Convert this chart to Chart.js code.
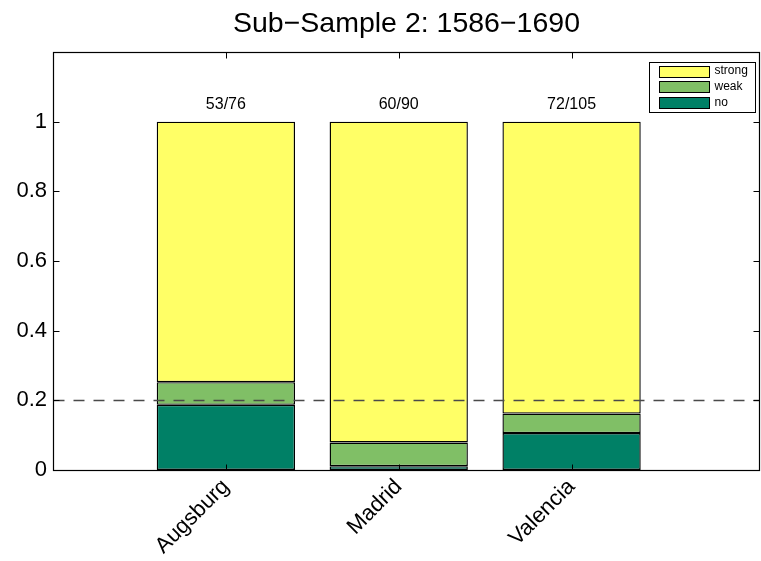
<!DOCTYPE html>
<html>
<head>
<meta charset="utf-8">
<script src="https://cdn.jsdelivr.net/npm/chart.js@4.4.1/dist/chart.umd.min.js"></script>
<style>
  html, body { margin: 0; padding: 0; background: #ffffff; overflow: hidden; }
  canvas { display: block; }
</style>
</head>
<body>
<canvas id="chart" width="761" height="561"></canvas>
<script>
// Share of cases per city, stacked from the bottom: no / weak / strong
const cities = ['Augsburg', 'Madrid', 'Valencia'];
const cityPositions = [1, 2, 3];
const noShare = [0.187, 0.011, 0.106];
const weakShare = [0.065, 0.068, 0.056];
const strongShare = [0.748, 0.921, 0.838];
const countLabels = ['53/76', '60/90', '72/105'];
const yTickValues = [0, 0.2, 0.4, 0.6, 0.8, 1];
const referenceLevel = 0.2;
const countLabelLevel = 1.05;

const FONT = '"Liberation Sans", Arial, Helvetica, sans-serif';

function points(values) {
  return values.map((v, i) => ({ x: cityPositions[i], y: v }));
}

const seriesNames = ['no', 'weak', 'strong'];
const seriesColors = ['#008066', '#80bf66', '#ffff66'];
const seriesValues = [noShare, weakShare, strongShare];

const datasets = seriesNames.map((name, i) => ({
  label: name,
  data: points(seriesValues[i]),
  backgroundColor: seriesColors[i],
  borderColor: '#000000',
  borderWidth: 1.4,
  borderSkipped: false,
  categoryPercentage: 1,
  barPercentage: 0.8
}));

// Axes frame, inward ticks, reference line, count labels and legend
const decorations = {
  id: 'decorations',
  afterDatasetsDraw(chart) {
    const { ctx, chartArea: a, scales: { x, y } } = chart;
    const L = Math.round(a.left) + 0.5, R = Math.round(a.right) - 0.5;
    const T = Math.round(a.top) + 0.5, B = Math.round(a.bottom) + 0.5;
    ctx.save();

    // dashed reference line
    const yr = Math.round(y.getPixelForValue(referenceLevel)) + 0.5;
    ctx.strokeStyle = '#4a4a4a';
    ctx.lineWidth = 1.3;
    ctx.setLineDash([11, 9]);
    ctx.beginPath();
    ctx.moveTo(L, yr);
    ctx.lineTo(R, yr);
    ctx.stroke();
    ctx.setLineDash([]);

    // frame
    ctx.strokeStyle = '#000000';
    ctx.lineWidth = 1.2;
    ctx.strokeRect(L, T, R - L, B - T);

    // inward ticks
    const tl = 6;
    ctx.lineWidth = 1;
    ctx.beginPath();
    yTickValues.forEach(v => {
      const py = Math.round(y.getPixelForValue(v)) + 0.5;
      ctx.moveTo(L, py); ctx.lineTo(L + tl, py);
      ctx.moveTo(R, py); ctx.lineTo(R - tl, py);
    });
    cityPositions.forEach(v => {
      const px = Math.round(x.getPixelForValue(v)) + 0.5;
      ctx.moveTo(px, T); ctx.lineTo(px, T + tl);
      ctx.moveTo(px, B); ctx.lineTo(px, B - tl);
    });
    ctx.stroke();

    // count labels above the bars
    ctx.fillStyle = '#000000';
    ctx.font = '16px ' + FONT;
    ctx.textAlign = 'center';
    ctx.textBaseline = 'middle';
    countLabels.forEach((t, i) => {
      ctx.fillText(t, x.getPixelForValue(cityPositions[i]), y.getPixelForValue(countLabelLevel));
    });

    // legend box in the upper right corner
    const bw = 106, bh = 50;
    const bx = Math.round(a.right) - 5 - bw + 0.5;
    const by = Math.round(a.top) + 10 + 0.5;
    ctx.fillStyle = '#ffffff';
    ctx.fillRect(bx, by, bw, bh);
    ctx.strokeStyle = '#000000';
    ctx.lineWidth = 1;
    ctx.strokeRect(bx, by, bw, bh);
    ctx.font = '12px ' + FONT;
    ctx.textAlign = 'left';
    const order = [2, 1, 0];
    order.forEach((di, row) => {
      const cy = by + 8.5 + row * 15.8;
      ctx.fillStyle = seriesColors[di];
      ctx.fillRect(bx + 10, Math.round(cy - 5.5) + 0.5, 50, 11);
      ctx.strokeStyle = '#000000';
      ctx.strokeRect(bx + 10, Math.round(cy - 5.5) + 0.5, 50, 11);
      ctx.fillStyle = '#000000';
      ctx.fillText(seriesNames[di], bx + 65, cy);
    });

    ctx.restore();
  }
};

new Chart(document.getElementById('chart'), {
  type: 'bar',
  data: { datasets },
  options: {
    responsive: false,
    devicePixelRatio: 1,
    animation: false,
    layout: { padding: { left: 0, right: 1, top: 0, bottom: 0 } },
    plugins: {
      legend: { display: false },
      tooltip: { enabled: false },
      title: {
        display: true,
        text: 'Sub\u2212Sample 2: 1586\u22121690',
        color: '#000000',
        fullSize: false,
        font: { family: FONT, size: 28.5, weight: 'normal' },
        padding: { top: 7, bottom: 10.8 }
      }
    },
    scales: {
      x: {
        type: 'linear',
        stacked: true,
        offset: false,
        min: 0,
        max: 4.09,
        grid: { display: false, drawTicks: false },
        border: { display: false },
        afterBuildTicks(scale) {
          scale.ticks = cityPositions.map(v => ({ value: v }));
        },
        afterFit(scale) { scale.height = 91; },
        ticks: {
          autoSkip: false,
          minRotation: 45,
          maxRotation: 45,
          padding: 4,
          color: '#000000',
          font: { family: FONT, size: 22 },
          callback(v) {
            const i = cityPositions.indexOf(v);
            return i >= 0 ? cities[i] : '';
          }
        }
      },
      y: {
        type: 'linear',
        stacked: true,
        min: 0,
        max: 1.2,
        grid: { display: false, drawTicks: false },
        border: { display: false },
        afterBuildTicks(scale) {
          scale.ticks = yTickValues.map(v => ({ value: v }));
        },
        afterFit(scale) { scale.width = 53; },
        ticks: {
          padding: 6,
          color: '#000000',
          font: { family: FONT, size: 22 },
          callback(v) { return String(v); }
        }
      }
    }
  },
  plugins: [decorations]
});
</script>
</body>
</html>
